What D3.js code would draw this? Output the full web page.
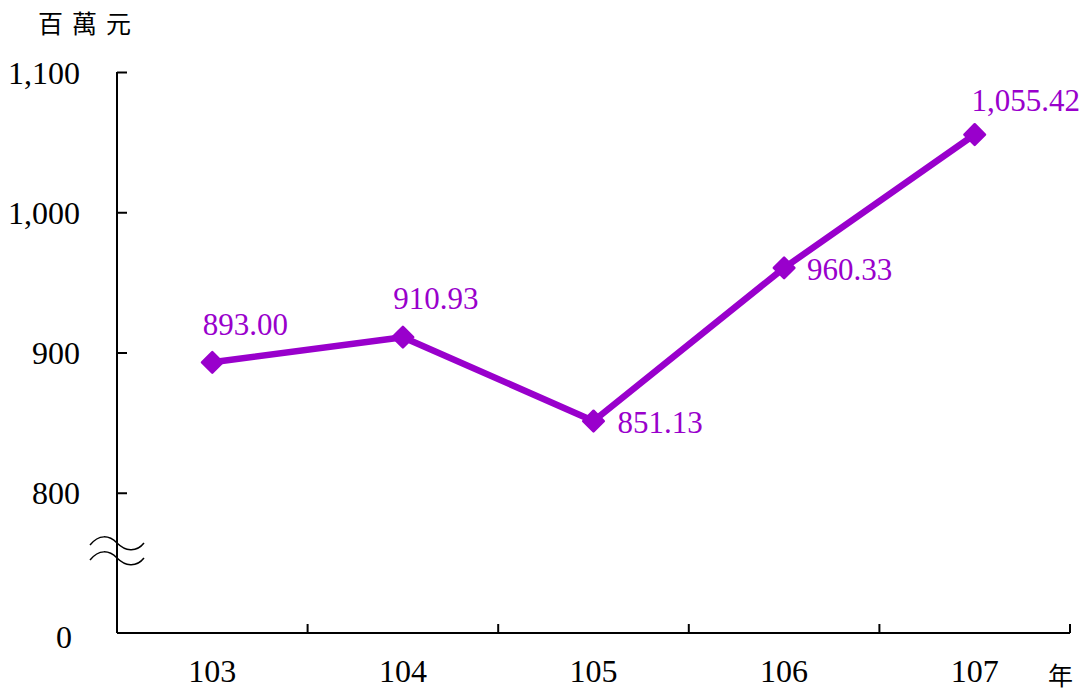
<!DOCTYPE html>
<html>
<head>
<meta charset="utf-8">
<script src="https://cdn.jsdelivr.net/npm/d3@7"></script>
<style>
  body { margin: 0; background: #fff; }
  text { font-family: "Liberation Serif", "Times New Roman", serif; }
  .cjk { font-family: "Noto Sans CJK TC", "Noto Sans CJK SC", sans-serif; }
</style>
</head>
<body>
<script>
// data
const years = ["103", "104", "105", "106", "107"];
const values = [893.00, 910.93, 851.13, 960.33, 1055.42];
const yTicks = [700, 800, 900, 1000, 1100];   // 700 sits where the break is drawn, labelled "0"

const W = 1086, H = 691;
const lineColor = "#9900cc";
// where each value label sits relative to its point: [dx, dy, anchor]
const labelPos = [[33, -27, "middle"], [33, -28, "middle"], [24, 12, "start"], [23, 12, "start"], [51, -24, "middle"]];

const svg = d3.select("body").append("svg")
    .attr("width", W)
    .attr("height", H);

var x = d3.scaleBand().domain(years).range([117, 1070]);
var y = d3.scaleLinear().domain([700, 1100]).range([633, 72]);

// y axis (ticks pointing inward)
var yAxis = d3.axisRight(y).tickValues(yTicks).tickSize(10)
    .tickFormat(d => d === 700 ? "0" : d3.format(",")(d));
var gy = svg.append("g").attr("transform", "translate(117,0)").call(yAxis);
gy.select(".domain").remove();
gy.append("line").attr("x1", 0).attr("x2", 0).attr("y1", 72).attr("y2", 633)
    .attr("stroke", "#000").attr("stroke-width", 2);
gy.selectAll(".tick line").attr("stroke", "#000").attr("stroke-width", 2)
    .attr("display", d => d === 700 ? "none" : null);
gy.selectAll(".tick text")
    .attr("x", d => d === 700 ? -45 : -37)
    .attr("dy", d => d === 700 ? "0.45em" : "0.35em")
    .attr("text-anchor", "end")
    .attr("fill", "#000")
    .style("font-size", "32px")
    .style("font-family", "Liberation Serif, serif");

// x axis: boundary ticks pointing up
var xEdges = years.map(d => x(d)).concat([x.range()[1]]);
var gx = svg.append("g");
gx.append("line").attr("x1", 117).attr("x2", 1070).attr("y1", 633).attr("y2", 633)
    .attr("stroke", "#000").attr("stroke-width", 2);
gx.selectAll(".xt").data(xEdges.slice(1)).enter().append("line")
    .attr("x1", d => d).attr("x2", d => d).attr("y1", 633).attr("y2", 624)
    .attr("stroke", "#000").attr("stroke-width", 2);
gx.selectAll(".xl").data(years).enter().append("text")
    .attr("x", d => x(d) + x.bandwidth() / 2)
    .attr("y", 682)
    .attr("text-anchor", "middle")
    .style("font-size", "32px")
    .text(d => d);

// axis break
[0, 15].forEach(function(off) {
    svg.append("path")
        .attr("d", "M90," + (545 + off) + " C99," + (534 + off) + " 109," + (535 + off) + " 117," + (543 + off) +
              " S136," + (553 + off) + " 144," + (543 + off))
        .attr("fill", "none").attr("stroke", "#000").attr("stroke-width", 1.5);
});

// unit labels
svg.append("text").attr("class", "cjk").attr("x", 38).attr("y", 33)
    .style("font-size", "25px").style("letter-spacing", "9px").text("百萬元");
svg.append("text").attr("class", "cjk").attr("x", 1048).attr("y", 685)
    .style("font-size", "25px").text("年");

// line + markers
var pts = years.map((d, i) => [x(d) + x.bandwidth() / 2, y(values[i])]);
svg.append("path")
    .datum(pts)
    .attr("d", d3.line())
    .attr("fill", "none")
    .attr("stroke", lineColor)
    .attr("stroke-width", 6.5)
    .attr("stroke-linejoin", "round");

svg.selectAll(".mk").data(pts).enter().append("path")
    .attr("d", d3.symbol().type(d3.symbolDiamond2).size(270))
    .attr("transform", d => "translate(" + d[0] + "," + d[1] + ")")
    .attr("fill", lineColor)
    .attr("stroke", lineColor)
    .attr("stroke-width", 2.5)
    .attr("stroke-linejoin", "round");

svg.selectAll(".vl").data(values).enter().append("text")
    .attr("x", (d, i) => pts[i][0] + labelPos[i][0])
    .attr("y", (d, i) => pts[i][1] + labelPos[i][1])
    .attr("text-anchor", (d, i) => labelPos[i][2])
    .attr("fill", lineColor)
    .style("font-size", "31px")
    .text(d => d3.format(",.2f")(d));
</script>
</body>
</html>
